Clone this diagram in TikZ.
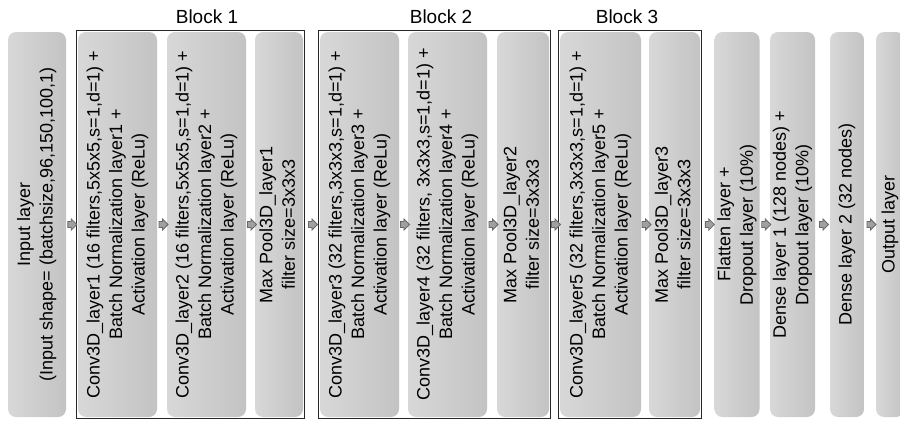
\documentclass[tikz,border=0pt]{standalone}
\usepackage{fontspec}
\setmainfont{Liberation Sans}
\usepackage{graphicx}
\usetikzlibrary{shapes.arrows,calc,fit}
\definecolor{boxL}{RGB}{216,216,216}
\definecolor{boxR}{RGB}{195,195,195}
\definecolor{arrF}{RGB}{160,160,160}
\definecolor{arrD}{RGB}{105,105,105}
\definecolor{frameC}{RGB}{40,40,40}
\newcommand{\vtext}[1]{\rotatebox{90}{\fontsize{18}{22.5}\selectfont\begin{tabular}{@{}c@{}}#1\end{tabular}}}
\tikzset{
  layerbox/.style={rounded corners=8pt, left color=boxL, right color=boxR, draw=none,
    inner sep=0pt, minimum height=385pt},
  flowarrow/.style={single arrow, fill=arrF, draw=arrD, line width=0.8pt,
    minimum height=9pt, inner sep=2.6pt, single arrow head extend=2.6pt},
  blockframe/.style={draw=frameC, line width=1.5pt, inner sep=1.5pt},
  blocktitle/.style={font=\fontsize{19}{22}\selectfont, inner sep=0pt}
}
\begin{document}
\begin{tikzpicture}[x=1pt,y=-1pt]
\useasboundingbox (0,0) rectangle (900,421);
\clip (0,0) rectangle (900,421);
\fill[white] (0,0) rectangle (900,421);

% layer boxes
\node[layerbox, minimum width=58pt] (in) at (37,224.5)
  {\vtext{Input layer\\(Input shape= (batchsize,96,150,100,1)}};
\node[layerbox, minimum width=79pt] (c1) at (117.5,224.5)
  {\vtext{Conv3D\_layer1 (16 filters,5x5x5,s=1,d=1) +\\Batch Normalization layer1 +\\Activation layer (ReLu)}};
\node[layerbox, minimum width=79pt] (c2) at (206.5,224.5)
  {\vtext{Conv3D\_layer2 (16 filters,5x5x5,s=1,d=1) +\\Batch Normalization layer2 +\\Activation layer (ReLu)}};
\node[layerbox, minimum width=48pt] (p1) at (279,224.5)
  {\vtext{Max Pool3D\_layer1\\filter size=3x3x3}};
\node[layerbox, minimum width=79pt] (c3) at (359.5,224.5)
  {\vtext{Conv3D\_layer3 (32 filters,3x3x3,s=1,d=1) +\\Batch Normalization layer3 +\\Activation layer (ReLu)}};
\node[layerbox, minimum width=79pt] (c4) at (447.5,224.5)
  {\vtext{Conv3D\_layer4 (32 filters, 3x3x3,s=1,d=1) +\\Batch Normalization layer4 +\\Activation layer (ReLu)}};
\node[layerbox, minimum width=52pt] (p2) at (523,224.5)
  {\vtext{Max Pool3D\_layer2\\filter size=3x3x3}};
\node[layerbox, minimum width=81pt] (c5) at (600.5,224.5)
  {\vtext{Conv3D\_layer5 (32 filters,3x3x3,s=1,d=1) +\\Batch Normalization layer5 +\\Activation layer (ReLu)}};
\node[layerbox, minimum width=51pt] (p3) at (674.5,224.5)
  {\vtext{Max Pool3D\_layer3\\filter size=3x3x3}};
\node[layerbox, minimum width=44pt] (fl) at (737,224.5)
  {\vtext{Flatten layer +\\Dropout layer (10\%)}};
\node[layerbox, minimum width=43pt] (d1) at (792.5,224.5)
  {\vtext{Dense layer 1 (128 nodes) +\\Dropout layer (10\%)}};
\node[layerbox, minimum width=34pt] (d2) at (847,224.5)
  {\vtext{Dense layer 2 (32 nodes)}};
\node[layerbox, minimum width=28pt] (out) at (890,224.5)
  {\vtext{Output layer}};

% block frames
\node[blockframe, fit=(c1)(p1)] (b1) {};
\node[blockframe, fit=(c3)(p2)] (b2) {};
\node[blockframe, fit=(c5)(p3)] (b3) {};

% block titles
\node[blocktitle] (t1) at (207,16.5) {Block 1};
\node[blocktitle] (t2) at (441,16.5) {Block 2};
\node[blocktitle] (t3) at (627,16.5) {Block 3};

% flow arrows
\node[flowarrow] (a1)  at ($(in.east)!0.5!(b1.west)$) {};
\node[flowarrow] (a2)  at ($(c1.east)!0.5!(c2.west)$) {};
\node[flowarrow] (a3)  at ($(c2.east)!0.5!(p1.west)$) {};
\node[flowarrow] (a4)  at ($(b1.east)!0.5!(b2.west)$) {};
\node[flowarrow] (a5)  at ($(c3.east)!0.5!(c4.west)$) {};
\node[flowarrow] (a6)  at ($(c4.east)!0.5!(p2.west)$) {};
\node[flowarrow] (a7)  at ($(b2.east)!0.5!(b3.west)$) {};
\node[flowarrow] (a8)  at ($(c5.east)!0.5!(p3.west)$) {};
\node[flowarrow] (a9)  at ($(b3.east)!0.5!(fl.west)$) {};
\node[flowarrow] (a10) at ($(fl.east)!0.5!(d1.west)$) {};
\node[flowarrow] (a11) at ($(d1.east)!0.5!(d2.west)$) {};
\node[flowarrow] (a12) at ($(d2.east)!0.5!(out.west)$) {};
\end{tikzpicture}
\end{document}
